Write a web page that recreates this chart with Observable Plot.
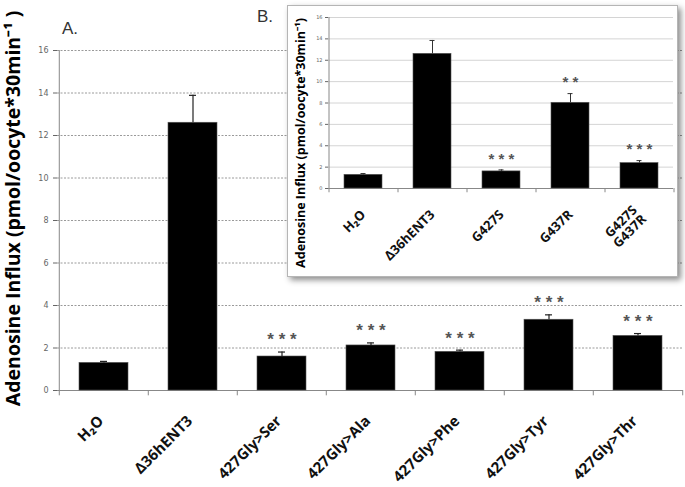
<!DOCTYPE html>
<html>
<head>
<meta charset="utf-8">
<script src="https://cdn.jsdelivr.net/npm/d3@7"></script>
<script src="https://cdn.jsdelivr.net/npm/@observablehq/plot@0.6"></script>
<style>
  html, body { margin: 0; padding: 0; background: #fff; }
  #wrap { position: relative; width: 685px; height: 487px; overflow: hidden; font-family: "Open Sans", sans-serif; }
  #main { position: absolute; left: 0; top: 0; }
  #inset { position: absolute; left: 287px; top: 5px; width: 389px; height: 270px; background: #fff;
           border: 1px solid #b5b5b5; box-shadow: 3px 3px 6px rgba(0,0,0,0.45); }
  .panel { position: absolute; font-family: "Liberation Sans", sans-serif; font-size: 17px; color: #333; }
</style>
</head>
<body>
<div id="wrap">
  <div id="main"></div>
  <div class="panel" style="left:62px; top:19px;">A.</div>
  <div id="inset"></div>
  <div class="panel" style="left:257px; top:7px;">B.</div>
</div>
<script>
// ---------- Panel A data ----------
const mainCats  = ["H₂O", "Δ36hENT3", "427Gly>Ser", "427Gly>Ala", "427Gly>Phe", "427Gly>Tyr", "427Gly>Thr"];
const mainMean  = [1.30, 12.60, 1.60, 2.12, 1.82, 3.33, 2.57];
const mainErr   = [0.07, 1.29, 0.21, 0.12, 0.08, 0.23, 0.11];
const mainStars = ["", "", "***", "***", "***", "***", "***"];
const mainYTicks = [0, 2, 4, 6, 8, 10, 12, 14, 16];
const mainYLabel = "Adenosine Influx (pmol/oocyte*30min⁻¹ )";

// ---------- Panel B (inset) data ----------
const insetCats  = ["H₂O", "Δ36hENT3", "G427S", "G437R", "G427S\nG437R"];
const insetMean  = [1.28, 12.60, 1.60, 8.02, 2.38];
const insetErr   = [0.12, 1.25, 0.14, 0.86, 0.23];
const insetStars = ["", "", "***", "**", "***"];
const insetYTicks = [0, 2, 4, 6, 8, 10, 12, 14, 16];
const insetYLabel = "Adenosine Influx (pmol/oocyte*30min⁻¹)";

function table(cats, mean, err, stars) {
  return cats.map((c, i) => ({cat: c, mean: mean[i], top: mean[i] + err[i], stars: stars[i]}));
}
const mainData = table(mainCats, mainMean, mainErr, mainStars);
const insetData = table(insetCats, insetMean, insetErr, insetStars);

function starText(s) { return s.split("").join(" "); }

// ---------- Main chart ----------
{
  const W = 685, H = 487, ml = 57, mr = 2, mt = 50, mb = 97;
  const step = (W - ml - mr) / mainCats.length;
  const last = mainCats[mainCats.length - 1];
  const chart = Plot.plot({
    width: W, height: H,
    marginLeft: ml, marginRight: mr, marginTop: mt, marginBottom: mb,
    style: {fontFamily: "DejaVu Sans, sans-serif", background: "#fff"},
    x: {domain: mainCats, paddingInner: 0.45, paddingOuter: 0.225, axis: null},
    y: {domain: [0, 16], axis: null},
    marks: [
      Plot.ruleY(mainYTicks.filter(v => v > 0), {y: d => d, stroke: "#9a9a9a", strokeDasharray: "2,1.5", strokeWidth: 1}),
      Plot.ruleY([0], {y: d => d, stroke: "#888"}),
      Plot.ruleX(mainCats, {x: d => d, y1: -0.25, y2: 0, dx: -step / 2, stroke: "#888"}),
      Plot.ruleX([last], {x: d => d, y1: -0.25, y2: 0, dx: step / 2, stroke: "#888"}),
      Plot.ruleX([mainCats[0]], {x: d => d, y1: 0, y2: 16, dx: -step / 2, stroke: "#888"}),
      Plot.axisY(mainYTicks, {tickSize: 4, tickPadding: 5, fontSize: 8, color: "#666", label: null}),
      Plot.barY(mainData, {x: "cat", y: "mean", fill: "#000", stroke: "#555", strokeWidth: 0.6}),
      Plot.ruleX(mainData, {x: "cat", y1: "mean", y2: "top", stroke: "#222", strokeWidth: 1.2}),
      Plot.tickY(mainData, {x: "cat", y: "top", stroke: "#222", strokeWidth: 1.2, insetLeft: 21, insetRight: 21}),
      Plot.text(mainData, {x: "cat", y: "top", text: d => starText(d.stars), dy: -12, fontSize: 17, fontWeight: "bold",
                  fill: "#555", fontFamily: "Liberation Sans, sans-serif"}),
      Plot.text(mainData, {x: "cat", frameAnchor: "bottom", text: "cat", rotate: -45, textAnchor: "end", lineAnchor: "middle",
                  dx: -3, dy: 28, fontSize: 15, fontWeight: "bold", fontFamily: "Open Sans, sans-serif", fill: "#111"}),
      Plot.text([mainYLabel], {text: d => d, frameAnchor: "left", textAnchor: "middle", rotate: -90, dx: -44, dy: -12,
                  fontSize: 19.5, fontWeight: "bold", fontFamily: "Open Sans, sans-serif", fill: "#000"})
    ]
  });
  document.getElementById("main").appendChild(chart);
}

// ---------- Inset chart ----------
{
  const W = 389, H = 270, ml = 40, mr = 4, mt = 11, mb = 88;
  const step = (W - ml - mr) / insetCats.length;
  const last = insetCats[insetCats.length - 1];
  const chart = Plot.plot({
    width: W, height: H,
    marginLeft: ml, marginRight: mr, marginTop: mt, marginBottom: mb,
    style: {fontFamily: "DejaVu Sans, sans-serif", background: "#fff"},
    x: {domain: insetCats, paddingInner: 0.45, paddingOuter: 0.225, axis: null},
    y: {domain: [0, 16], axis: null},
    marks: [
      Plot.ruleY(insetYTicks.filter(v => v > 0), {y: d => d, stroke: "#d4d4d4", strokeWidth: 1}),
      Plot.ruleY([0], {y: d => d, stroke: "#888"}),
      Plot.ruleX(insetCats, {x: d => d, y1: -0.4, y2: 0, dx: -step / 2, stroke: "#888"}),
      Plot.ruleX([last], {x: d => d, y1: -0.4, y2: 0, dx: step / 2, stroke: "#888"}),
      Plot.ruleX([insetCats[0]], {x: d => d, y1: 0, y2: 16, dx: -step / 2, stroke: "#888"}),
      Plot.axisY(insetYTicks, {tickSize: 3, tickPadding: 3, fontSize: 5, color: "#666", label: null}),
      Plot.barY(insetData, {x: "cat", y: "mean", fill: "#000", stroke: "#555", strokeWidth: 0.6}),
      Plot.ruleX(insetData, {x: "cat", y1: "mean", y2: "top", stroke: "#333", strokeWidth: 1}),
      Plot.tickY(insetData, {x: "cat", y: "top", stroke: "#333", strokeWidth: 1, insetLeft: 16.5, insetRight: 16.5}),
      Plot.text(insetData, {x: "cat", y: "top", text: d => starText(d.stars), dy: -11, fontSize: 15, fontWeight: "bold",
                  fill: "#555", fontFamily: "Liberation Sans, sans-serif"}),
      Plot.text(insetData, {x: "cat", frameAnchor: "bottom", text: "cat", rotate: -45, textAnchor: "end", lineAnchor: "middle",
                  lineHeight: 1.0, dx: 0, dy: 24, fontSize: 13, fontWeight: "bold", fontFamily: "Open Sans, sans-serif", fill: "#111"}),
      Plot.text([insetYLabel], {text: d => d, frameAnchor: "left", textAnchor: "middle", rotate: -90, dx: -28, dy: 40,
                  fontSize: 12.5, fontWeight: "bold", fontFamily: "Open Sans, sans-serif", fill: "#000"})
    ]
  });
  document.getElementById("inset").appendChild(chart);
}
</script>
</body>
</html>
